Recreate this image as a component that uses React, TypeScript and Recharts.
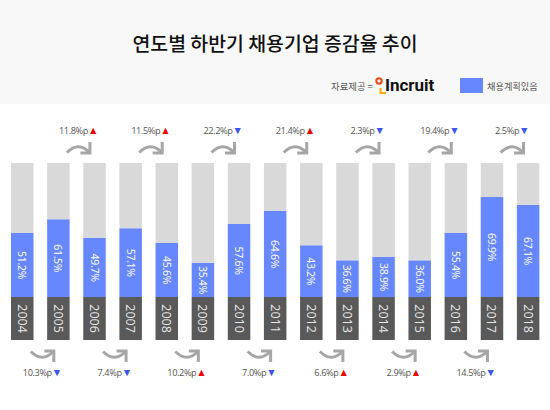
import React from 'react';
import { BarChart, Bar, XAxis, YAxis, LabelList } from 'recharts';

const years = ['2004', '2005', '2006', '2007', '2008', '2009', '2010', '2011', '2012', '2013', '2014', '2015', '2016', '2017', '2018'];
// printed percentages
const shares = ['51.2%', '61.5%', '49.7%', '57.1%', '45.6%', '35.4%', '57.6%', '64.6%', '43.2%', '36.6%', '38.9%', '36.0%', '55.4%', '69.9%', '67.1%'];
// bar levels as drawn in the picture, the infographic does not scale them to the printed numbers
const levels = [47.8, 58, 44, 51.3, 40.3, 25.6, 54.5, 64.2, 38.6, 27.4, 29.9, 27.4, 47.8, 74.6, 68.7];
const changes = ['10.3%p', '11.8%p', '7.4%p', '11.5%p', '10.2%p', '22.2%p', '7.0%p', '21.4%p', '6.6%p', '2.3%p', '2.9%p', '19.4%p', '14.5%p', '2.5%p'];
const directions = ['down', 'up', 'down', 'up', 'up', 'down', 'down', 'up', 'up', 'down', 'up', 'down', 'down', 'down'];
const YEAR_BAND = 32;

const data = years.map((year, i) => ({
  year,
  band: YEAR_BAND,
  level: levels[i],
  rest: 100 - levels[i],
  share: shares[i],
  change: changes[i],
}));

const FONT = '"Noto Sans CJK KR", "Noto Sans", sans-serif';
const STEP = 36.13;

const RotatedLabel = ({ x, y, width, height, value, color, size, spacing }: any) => {
  const cx = x + width / 2;
  const cy = y + height / 2;
  return (
    <text
      x={cx}
      y={cy}
      fill={color}
      fontSize={size}
      letterSpacing={spacing}
      fontFamily='"Open Sans", sans-serif'
      textAnchor="middle"
      dominantBaseline="central"
      transform={`rotate(90 ${cx} ${cy})`}
    >
      {value}
    </text>
  );
};

const ChangeNote = ({ x, y, width, height, index, value, upper }: any) => {
  if (!value || (index % 2 === 1) !== upper) return null;
  const dir = directions[index];
  const cx = x + width / 2 + STEP / 2;
  const ay = upper ? y - 15 : y + height + 16;
  const ty = upper ? y - 33 : y + height + 32;
  // mirror the arrow for the ones under the bars
  const flip = upper ? 1 : -1;
  return (
    <g>
      <g transform={`translate(${cx + 2} ${ay}) scale(1 ${flip})`} fill="none" stroke="#a6a6a6" strokeWidth={3}>
        <path d="M -11.5 4.5 Q 0 -7 11 4.5" />
        <path d="M 11.5 -6 V 5 H 2" />
      </g>
      <text x={cx + 2} y={ty} textAnchor="middle" dominantBaseline="central" fontSize={9.2} letterSpacing={-0.4} fontFamily='"Open Sans", sans-serif' fill="#555555">
        {value}
        <tspan fill={dir === 'up' ? '#f00000' : '#3d55f0'} fontSize={10.5}>{dir === 'up' ? '▲' : '▼'}</tspan>
      </text>
    </g>
  );
};

const App = () => (
  <div style={{ position: 'absolute', left: 0, top: 0, width: 550, height: 410, background: '#ffffff', overflow: 'hidden', fontFamily: FONT }}>
    <div style={{ position: 'absolute', left: 0, top: 0, width: 550, height: 104, background: '#f8f8f8' }} />
    <div style={{ position: 'absolute', left: 0, top: 28, width: 550, textAlign: 'center', fontSize: 19.4, fontWeight: 500, lineHeight: '30px', color: '#111111' }}>
      연도별 하반기 채용기업 증감율 추이
    </div>
    <div style={{ position: 'absolute', left: 331, top: 78, fontSize: 9.4, lineHeight: '16px', color: '#555555' }}>자료제공 =</div>
    <svg style={{ position: 'absolute', left: 374, top: 76 }} width={14} height={24}>
      <circle cx={5} cy={5} r={2.7} fill="none" stroke="#ee4b12" strokeWidth={2} />
      <path d="M 6.5 12 V 17 H 12" fill="none" stroke="#ffaa00" strokeWidth={2} />
    </svg>
    <div style={{ position: 'absolute', left: 385, top: 74, fontFamily: 'Roboto, sans-serif', fontSize: 17, fontWeight: 700, lineHeight: '22px', color: '#111111' }}>Incruit</div>
    <div style={{ position: 'absolute', left: 460, top: 78, width: 23, height: 15, background: '#6787ff' }} />
    <div style={{ position: 'absolute', left: 487, top: 78, fontSize: 9.2, lineHeight: '16px', color: '#555555' }}>채용계획있음</div>

    <div style={{ position: 'absolute', left: 0, top: 0 }}>
      <BarChart width={550} height={410} data={data} margin={{ top: 163, right: 4, bottom: 70, left: 4 }} barSize={22.5}>
        <XAxis dataKey="year" hide />
        <YAxis hide domain={[0, 100 + YEAR_BAND]} />
        <Bar dataKey="band" stackId="a" fill="#595959" isAnimationActive={false}>
          <LabelList dataKey="year" content={<RotatedLabel color="#e6e6e6" size={12.5} spacing={0} />} />
          <LabelList dataKey="change" content={<ChangeNote upper={false} />} />
        </Bar>
        <Bar dataKey="level" stackId="a" fill="#6787ff" isAnimationActive={false}>
          <LabelList dataKey="share" content={<RotatedLabel color="#ffffff" size={10.5} spacing={-0.3} />} />
        </Bar>
        <Bar dataKey="rest" stackId="a" fill="#d9d9d9" isAnimationActive={false}>
          <LabelList dataKey="change" content={<ChangeNote upper={true} />} />
        </Bar>
      </BarChart>
    </div>
  </div>
);

export default App;
